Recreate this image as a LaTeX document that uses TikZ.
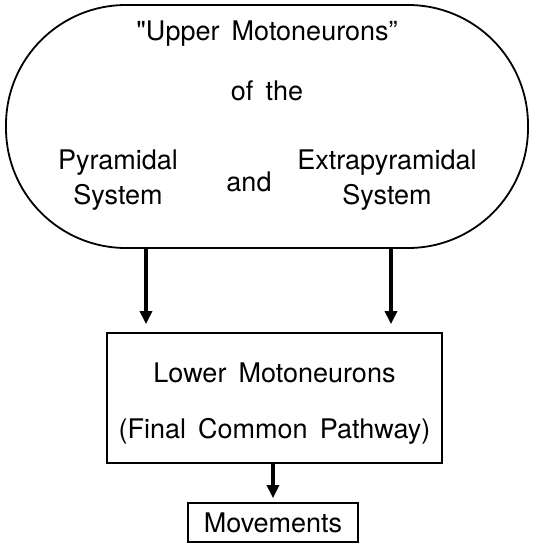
\documentclass[tikz,border=0pt]{standalone}
\usepackage{fontspec}
\setmainfont{TeX Gyre Heros}
\usetikzlibrary{arrows.meta}
\newcommand{\widesp}{\spaceskip=0.45em plus 0.1em\relax}
\begin{document}
\begin{tikzpicture}[x=1pt,y=-1pt,
  txt/.style={font=\fontsize{27}{32}\selectfont, execute at begin node=\widesp, inner sep=0pt, align=center},
  boxline/.style={draw, line width=1.8pt},
  flow/.style={line width=3.8pt, -{Triangle[length=13pt,width=12pt]}}]
\useasboundingbox (0,0) rectangle (535,552);
\node[boxline, rounded corners=120pt, minimum width=522pt, minimum height=243pt, inner sep=0pt] (upper) at (267,126.5) {};
\node[txt] (t1) at (267,34) {\textquotedbl Upper Motoneurons''};
\node[txt] (t2) at (267,91) {of the};
\node[txt] (pyr) at (118,180) {Pyramidal\\[3pt]System};
\node[txt] (and) at (249,182) {and};
\node[txt] (ext) at (387,180) {Extrapyramidal\\[3pt]System};
\node[boxline, minimum width=335pt, minimum height=130pt, inner sep=0pt] (lower) at (274.5,398) {};
\node[txt] (l1) at (274.5,373) {Lower Motoneurons};
\node[txt] (l2) at (274.5,431) {(Final Common Pathway)};
\node[boxline, minimum width=170pt, minimum height=39pt, inner sep=0pt] (mov) at (273,522.5) {};
\node[txt] (m1) at (273,523) {Movements};
\coordinate (a1) at (146,0);
\coordinate (a2) at (391,0);
\draw[flow] (upper.south -| a1) -- ([yshift=8pt]lower.north -| a1);
\draw[flow] (upper.south -| a2) -- ([yshift=8pt]lower.north -| a2);
\draw[flow] (lower.south -| mov.north) -- ([yshift=4pt]mov.north);
\end{tikzpicture}
\end{document}
